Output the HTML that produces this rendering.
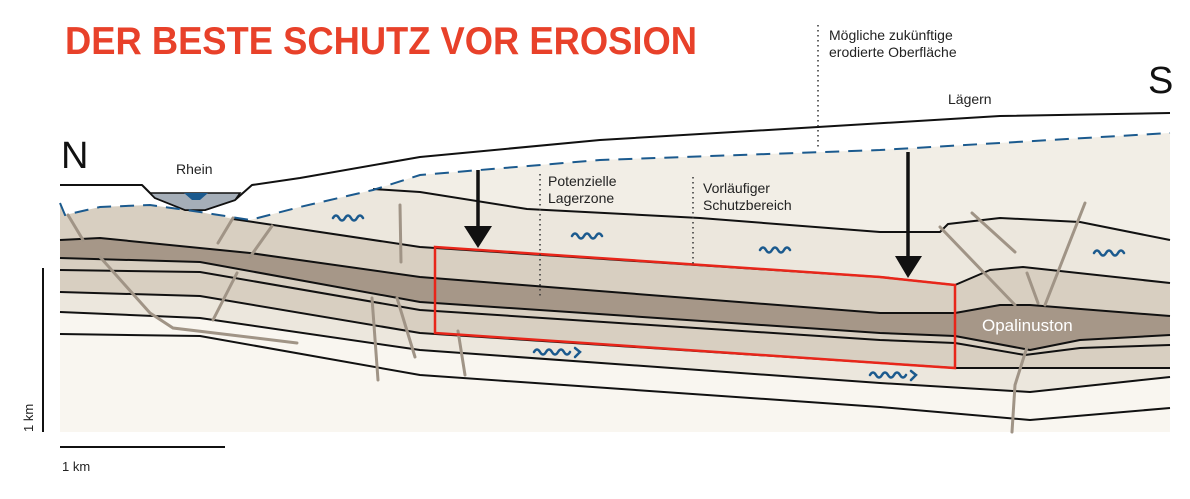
<!DOCTYPE html>
<html><head><meta charset="utf-8"><style>
html,body{margin:0;padding:0;background:#fff;}
svg{display:block;font-family:"Liberation Sans",sans-serif;}
</style></head><body>
<svg width="1190" height="499" viewBox="0 0 1190 499" xmlns="http://www.w3.org/2000/svg">
<!-- base -->
<path d="M60,185 L142,185 L155,198 L185,210 L205,210 L235,200 L252,185 L300,178 L420,157 L600,140 L818,127 L1000,116 L1170,113 L1170,432 L60,432 Z" fill="#f9f6f0"/>
<!-- white zone between surface and dashed -->
<path d="M60,185 L142,185 L155,198 L185,210 L205,210 L235,200 L252,185 L300,178 L420,157 L600,140 L818,127 L1000,116 L1170,113 L1170,133 L880,150 L600,160 L420,175 L373,190 L300,207 L250,220 L200,212 L150,205 L100,207 L65,215 L60,203 Z" fill="#fff"/>
<!-- very light between dashed and T -->
<path d="M373,190 L420,175 L600,160 L880,150 L1170,133 L1170,240 L1080,222 L1000,218 L948,224 L940,232 L880,232 L700,218 L527,209 L420,192 Z" fill="#f2eee6"/>
<!-- light between T and A -->
<path d="M233,219 L250,220 L300,207 L373,190 L420,192 L527,209 L700,218 L880,232 L940,232 L948,224 L1000,218 L1080,222 L1170,240 L1170,283 L1023,267 L990,270 L955,285 L880,277 L420,247 Z" fill="#ece7dd"/>
<!-- tan between top and B -->
<path d="M60,203 L65,215 L100,207 L150,205 L200,212 L233,219 L420,247 L880,277 L955,285 L990,270 L1023,267 L1170,283 L1170,316 L1030,305 L1000,305 L955,313 L880,313 L420,277 L250,253 L100,238 L60,240 Z" fill="#d8cfc1"/>
<!-- dark band -->
<path d="M60,240 L100,238 L250,253 L420,277 L880,313 L955,313 L1000,305 L1030,305 L1170,316 L1170,335 L1080,340 L1030,350 L955,336 L880,333 L420,302 L200,262 L60,258 Z" fill="#a69788"/>
<!-- tan below C -->
<path d="M60,258 L200,262 L420,302 L880,333 L955,336 L1030,350 L1080,340 L1170,335 L1170,368 L955,368 L880,363 L420,333 L200,296 L60,292 Z" fill="#d8cfc1"/>
<!-- light below D -->
<path d="M60,292 L200,296 L420,333 L880,363 L955,368 L1170,368 L1170,377 L1030,392 L880,383 L420,350 L200,318 L60,312 Z" fill="#ece7dd"/>
<g fill="none" stroke="#111" stroke-width="2" stroke-linejoin="round">
<polyline points="60,185 142,185 155,198 185,210 205,210 235,200 252,185 300,178 420,157 600,140 818,127 1000,116 1170,113"/>
<polyline points="373,189 420,192 527,209 700,218 880,232 940,232 948,224 1000,218 1080,222 1170,240"/>
<polyline points="233,219 420,247 880,277 955,285 990,270 1023,267 1170,283"/>
<polyline points="60,240 100,238 250,253 420,277 880,313 955,313 1000,305 1030,305 1170,316"/>
<polyline points="60,258 200,262 420,302 880,333 955,336 1030,350 1080,340 1170,335"/>
<polyline points="60,270 200,272 420,310 880,340 955,343 1025,355 1080,348 1170,345"/>
<polyline points="60,292 200,296 420,333 880,363 955,368 1170,368"/>
<polyline points="60,312 200,318 420,350 880,383 1030,392 1170,377"/>
<polyline points="60,334 200,336 420,375 880,407 1030,420 1170,408"/>
</g>
<!-- Rhein -->
<path d="M150,193 L240,193 L235,200 L205,210 L185,210 L155,198 Z" fill="#a5aeb8" stroke="#111" stroke-width="1.5"/>
<path d="M184,193 L192,200 L200,200 L208,193 Z" fill="#1b5a8e"/>
<!-- dashed -->
<polyline points="60,203 65,215 100,207 150,205 200,212 250,220 300,207 373,190 420,175 600,160 880,150 1170,133" fill="none" stroke="#1b5a8e" stroke-width="2" stroke-dasharray="14,9"/>
<!-- faults -->
<g stroke="#a09486" stroke-width="3" fill="none" stroke-linecap="round">
<line x1="400" y1="205" x2="401" y2="262"/>
<line x1="233" y1="218" x2="218" y2="243"/>
<line x1="272" y1="226" x2="250" y2="257"/>
<line x1="237" y1="273" x2="213" y2="320"/>
<polyline points="100,257 150,313 173,328 297,343"/>
<line x1="68" y1="215" x2="83" y2="240"/>
<line x1="372" y1="298" x2="378" y2="380"/>
<line x1="397" y1="298" x2="415" y2="357"/>
<line x1="458" y1="331" x2="465" y2="375"/>
<line x1="940" y1="227" x2="1015" y2="305"/>
<line x1="972" y1="213" x2="1015" y2="252"/>
<line x1="1027" y1="273" x2="1038" y2="303"/>
<line x1="1085" y1="203" x2="1045" y2="305"/>
<polyline points="1027,347 1015,385 1012,432"/>
</g>
<!-- red box -->
<polygon points="435,247 880,277 955,285 955,368 880,363 435,333" fill="none" stroke="#e8261a" stroke-width="2.5"/>
<!-- arrows -->
<line x1="478" y1="170" x2="478" y2="228" stroke="#111" stroke-width="3.5"/>
<polygon points="464,226 492,226 478,248" fill="#111"/>
<line x1="908" y1="152" x2="908" y2="258" stroke="#111" stroke-width="3.5"/>
<polygon points="895,256 922,256 908,278" fill="#111"/>
<!-- dotted -->
<g stroke="#333" stroke-width="1.5" stroke-dasharray="1.5,3.5">
<line x1="540" y1="174" x2="540" y2="296"/>
<line x1="693" y1="177" x2="693" y2="264"/>
<line x1="818" y1="25" x2="818" y2="150"/>
</g>
<!-- waves -->
<g fill="none" stroke="#1b5a8e" stroke-width="2.5" stroke-linecap="round">
<path d="M333,218 q3,-5 6,0 q3,5 6,0 q3,-5 6,0 q3,5 6,0 q3,-5 6,0"/>
<path d="M572,236 q3,-5 6,0 q3,5 6,0 q3,-5 6,0 q3,5 6,0 q3,-5 6,0"/>
<path d="M760,250 q3,-5 6,0 q3,5 6,0 q3,-5 6,0 q3,5 6,0 q3,-5 6,0"/>
<path d="M1094,253 q3,-5 6,0 q3,5 6,0 q3,-5 6,0 q3,5 6,0 q3,-5 6,0"/>
<path d="M534,352 q3,-5 6,0 q3,5 6,0 q3,-5 6,0 q3,5 6,0 q3,-5 6,0 q3,5 6,0 M575,348 l5,4 l-5,5"/>
<path d="M870,375 q3,-5 6,0 q3,5 6,0 q3,-5 6,0 q3,5 6,0 q3,-5 6,0 q3,5 6,0 M911,371 l5,4 l-5,5"/>
</g>
<!-- scale -->
<line x1="43" y1="268" x2="43" y2="432" stroke="#111" stroke-width="2"/>
<line x1="60" y1="447" x2="225" y2="447" stroke="#111" stroke-width="2"/>
<text x="33" y="432" font-size="13" fill="#222" transform="rotate(-90 33 432)">1 km</text>
<text x="62" y="471" font-size="13" fill="#222">1 km</text>
<!-- text -->
<text x="65" y="54" font-size="39" font-weight="bold" fill="#e8412a" textLength="632" lengthAdjust="spacingAndGlyphs">DER BESTE SCHUTZ VOR EROSION</text>
<text x="61" y="168" font-size="38" fill="#111">N</text>
<text x="1148" y="93" font-size="38" fill="#111">S</text>
<text x="176" y="174" font-size="14" fill="#222">Rhein</text>
<text x="948" y="104" font-size="14" fill="#222">Lägern</text>
<text x="829" y="40" font-size="14" fill="#222">Mögliche zukünftige</text>
<text x="829" y="57" font-size="14" fill="#222">erodierte Oberfläche</text>
<text x="548" y="186" font-size="14" fill="#222">Potenzielle</text>
<text x="548" y="203" font-size="14" fill="#222">Lagerzone</text>
<text x="703" y="193" font-size="14" fill="#222">Vorläufiger</text>
<text x="703" y="210" font-size="14" fill="#222">Schutzbereich</text>
<text x="982" y="331" font-size="17" fill="#fff">Opalinuston</text>
</svg>
</body></html>
